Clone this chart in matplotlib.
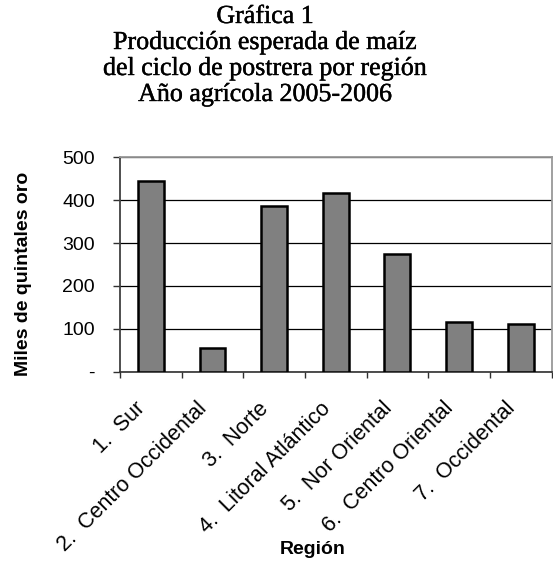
import matplotlib
matplotlib.use('Agg')
import matplotlib.pyplot as plt
import matplotlib.patheffects as pe
from matplotlib.transforms import ScaledTranslation

regiones = ['1.  Sur', '2.  Centro Occidental', '3.  Norte', '4.  Litoral Atlántico',
            '5.  Nor Oriental', '6.  Centro Oriental', '7.  Occidental']
produccion = [445, 56, 386, 417, 274, 115, 111]
yticks = [0, 100, 200, 300, 400, 500]
ytick_labels = ['-', '100', '200', '300', '400', '500']

titulo = ['Gráfica 1', 'Producción esperada de maíz',
          'del ciclo de postrera por región', 'Año agrícola 2005-2006']

W, H = 553, 579
fig = plt.figure(figsize=(W / 100, H / 100), dpi=100)
ax = fig.add_axes([120 / W, 1 - 371.7 / H, 431.5 / W, 214.4 / H])

x = range(len(regiones))
ax.bar(x, produccion, width=0.42, color='#808080', edgecolor='black', linewidth=1.8, zorder=3)

ax.set_xlim(-0.5, len(regiones) - 0.5)
ax.set_ylim(0, 500)
ax.set_yticks(yticks)
ax.set_yticklabels(ytick_labels, fontsize=14, family='Liberation Sans')
ax.yaxis.grid(True, color='black', linewidth=0.9, zorder=0)

# marcas entre categorias, etiquetas centradas bajo cada barra
ax.set_xticks([i - 0.5 for i in range(len(regiones) + 1)])
ax.set_xticklabels([])
ax.set_xticks(list(x), minor=True)
ax.set_xticklabels(regiones, minor=True, rotation=45, ha='right', rotation_mode='anchor',
                   fontsize=15.5, family='Liberation Sans')
ax.tick_params(axis='x', which='minor', length=0, pad=19)
ax.tick_params(axis='x', which='major', length=4.5, width=1, color='#303030')
ax.tick_params(axis='y', length=5, width=1, color='#303030', pad=13)
desplaza = ScaledTranslation(-16 / 100, 0, fig.dpi_scale_trans)
for lab in ax.get_xticklabels(minor=True):
    lab.set_transform(lab.get_transform() + desplaza)

for s in ['top', 'right']:
    ax.spines[s].set_color('#999999')
    ax.spines[s].set_linewidth(1.3)
ax.spines['left'].set_color('#404040')
ax.spines['left'].set_linewidth(1.3)
ax.spines['bottom'].set_color('#303030')
ax.spines['bottom'].set_linewidth(1.2)

fig.text(24 / W, 1 - 274 / H, 'Miles de quintales oro', rotation=90, ha='center', va='center',
         fontsize=14, fontweight='bold', family='Liberation Sans')
fig.text(313 / W, 1 - 550 / H, 'Región', ha='center', va='center', fontsize=14, fontweight='bold',
         family='Liberation Sans')

# el titulo original se ve algo mas grueso que la serif normal
grueso = [pe.withStroke(linewidth=0.3, foreground='black')]
for i, linea in enumerate(titulo):
    fig.text(265 / W, 1 - (23 + 26 * i) / H, linea, ha='center', va='baseline', fontsize=18.7,
             family='Liberation Serif', path_effects=grueso)

fig.savefig('out.png', dpi=100)
